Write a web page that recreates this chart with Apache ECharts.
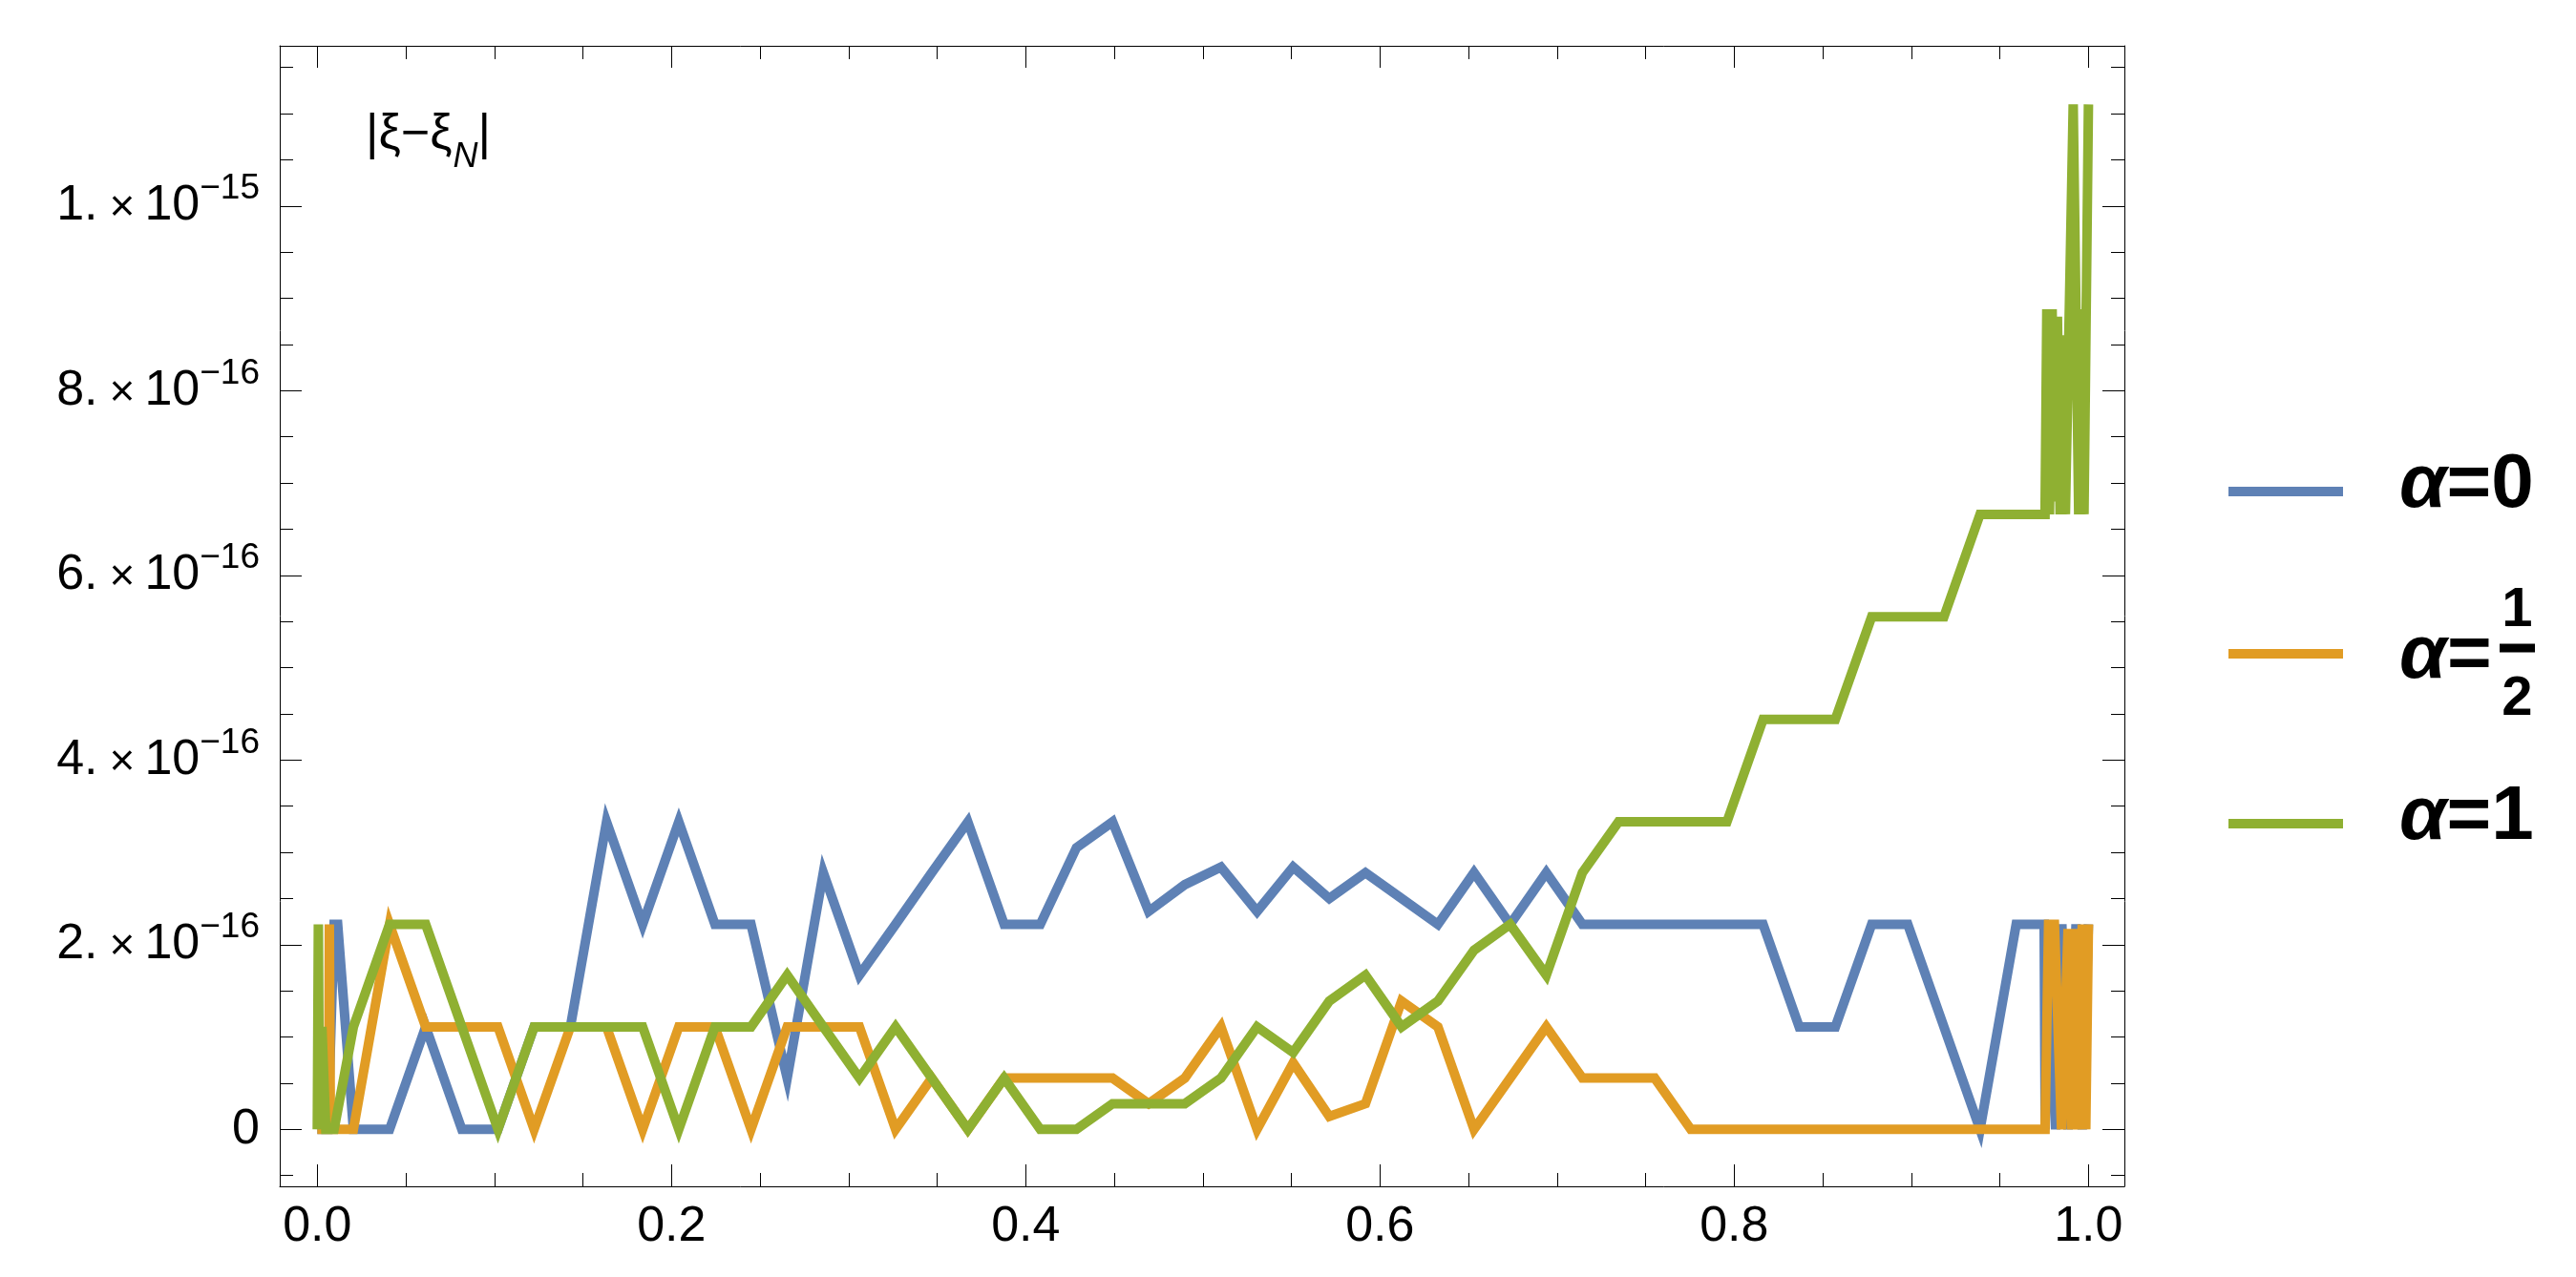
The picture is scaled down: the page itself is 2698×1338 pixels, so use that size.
<!DOCTYPE html>
<html>
<head>
<meta charset="utf-8">
<script src="https://cdn.jsdelivr.net/npm/echarts@6.0.0/dist/echarts.min.js"></script>
<style>
  html, body { margin: 0; padding: 0; background: #fff; }
  #chart { width: 2698px; height: 1338px; }
</style>
</head>
<body>
<div id="chart"></div>
<script>
// y values are in units of 1e-16
const xGrid = [0.0204, 0.0408, 0.0612, 0.0816, 0.1020, 0.1224, 0.1429, 0.1633, 0.1837, 0.2041,
  0.2245, 0.2449, 0.2653, 0.2857, 0.3061, 0.3265, 0.3469, 0.3673, 0.3878, 0.4082,
  0.4286, 0.4490, 0.4694, 0.4898, 0.5102, 0.5306, 0.5510, 0.5714, 0.5918, 0.6122,
  0.6327, 0.6531, 0.6735, 0.6939, 0.7143, 0.7347, 0.7551, 0.7755, 0.7959, 0.8163,
  0.8367, 0.8571, 0.8776, 0.8980, 0.9184, 0.9388, 0.9592]

const blueVals = [0, 0, 1.11, 0, 0, 1.11, 1.11, 3.33, 2.22, 3.33,
  2.22, 2.22, 0.555, 2.78, 1.67, 2.22, 2.78, 3.33, 2.22, 2.22,
  3.05, 3.33, 2.36, 2.65, 2.84, 2.36, 2.84, 2.50, 2.78, 2.50,
  2.22, 2.78, 2.22, 2.78, 2.22, 2.22, 2.22, 2.22, 2.22, 2.22,
  1.11, 1.11, 2.22, 2.22, 1.11, 0, 2.22]
const orangeVals = [0, 2.22, 1.11, 1.11, 1.11, 0, 1.11, 1.11, 0, 1.11,
  1.11, 0, 1.11, 1.11, 1.11, 0, 0.555, 0, 0.555, 0.555,
  0.555, 0.555, 0.278, 0.555, 1.11, 0, 0.72, 0.14, 0.278, 1.39,
  1.11, 0, 0.555, 1.11, 0.555, 0.555, 0.555, 0, 0, 0,
  0, 0, 0, 0, 0, 0, 0]
const greenVals = [1.11, 2.22, 2.22, 1.11, 0, 1.11, 1.11, 1.11, 1.11, 0,
  1.11, 1.11, 1.67, 1.11, 0.555, 1.11, 0.555, 0, 0.555, 0,
  0, 0.278, 0.278, 0.278, 0.555, 1.11, 0.833, 1.39, 1.67, 1.11,
  1.39, 1.94, 2.22, 1.67, 2.78, 3.33, 3.33, 3.33, 3.33, 4.44,
  4.44, 4.44, 5.55, 5.55, 5.55, 6.66, 6.66]

// extra samples near the ends
const blueHead = [[0, 0], [0.0060, 0], [0.0095, 2.22], [0.0115, 2.22]]
const orangeHead = [[0, 0], [0.0064, 0], [0.0068, 2.22], [0.0074, 0]]
const greenHead = [[0, 0], [0.0006, 2.22], [0.0012, 0], [0.0026, 1.11], [0.0048, 0], [0.0095, 0]]
const blueTail = [[0.9750, 2.22], [0.9756, 0], [0.9785, 2.22], [0.9815, 0], [0.9850, 2.22],
  [0.9885, 0], [0.9930, 2.22], [0.9965, 0], [1.0, 2.22]]
const orangeTail = [[0.9755, 0], [0.9775, 2.22], [0.9808, 2.22], [0.9848, 0], [0.9885, 2.17],
  [0.9905, 0], [0.9925, 2.17], [0.9945, 0], [0.9965, 2.22], [0.9985, 0], [1.0, 2.22]]
const greenTail = [[0.9755, 6.66], [0.9765, 8.88], [0.9780, 6.66], [0.9795, 8.88], [0.9810, 6.8],
  [0.9825, 8.8], [0.9840, 6.66], [0.9855, 8.6], [0.9870, 6.66], [0.9914, 11.1],
  [0.9945, 6.66], [0.9960, 8.88], [0.9975, 6.66], [1.0, 11.1]]

const seriesNames = ['α=0', 'α=1/2', 'α=1']
const seriesColors = ['#5E81B5', '#E19C24', '#8FB032']

const xTickValues = [0, 0.2, 0.4, 0.6, 0.8, 1.0]
const xTickLabels = ['0.0', '0.2', '0.4', '0.6', '0.8', '1.0']
const xMinorTicks = [0.05, 0.1, 0.15, 0.25, 0.3, 0.35, 0.45, 0.5, 0.55, 0.65, 0.7, 0.75, 0.85, 0.9, 0.95]
const yTickValues = [0, 2, 4, 6, 8, 10]
const yTickLabels = ['0', '2.×10^−16', '4.×10^−16', '6.×10^−16', '8.×10^−16', '1.×10^−15']
const yMinorTicks = [-0.5, 0.5, 1, 1.5, 2.5, 3, 3.5, 4.5, 5, 5.5, 6.5, 7, 7.5, 8.5, 9, 9.5, 10.5, 11, 11.5]

const X_MIN = -0.0212, X_MAX = 1.0203
const Y_MIN = -0.617, Y_MAX = 11.734

const FONT = 'Liberation Sans'

function pairs(xs, ys) {
  return xs.map((x, i) => [x, ys[i]])
}

function lookup(values, labels, v) {
  const i = values.findIndex(t => Math.abs(t - v) < 1e-6)
  return i < 0 ? '' : labels[i]
}

const chart = echarts.init(document.getElementById('chart'))

const gridRect = { left: 293, top: 48, width: 1932, height: 1195 }

function axisLineFor(major) {
  return { show: major, onZero: false, lineStyle: { color: '#000', width: 1 } }
}
function xAx(gridIndex, position, ticks, len, major) {
  return {
    type: 'value', gridIndex, position, min: X_MIN, max: X_MAX,
    axisLine: axisLineFor(major),
    splitLine: { show: false },
    axisTick: { show: true, inside: true, length: len, customValues: ticks, lineStyle: { color: '#000', width: 1 } },
    axisLabel: { show: false }
  }
}
function yAx(gridIndex, position, ticks, len, major) {
  return {
    type: 'value', gridIndex, position, min: Y_MIN, max: Y_MAX,
    axisLine: axisLineFor(major),
    splitLine: { show: false },
    axisTick: { show: true, inside: true, length: len, customValues: ticks, lineStyle: { color: '#000', width: 1 } },
    axisLabel: { show: false }
  }
}

const xAxes = [
  xAx(0, 'bottom', xTickValues, 23, true),
  xAx(1, 'top', xTickValues, 23, true),
  xAx(2, 'bottom', xMinorTicks, 14, false),
  xAx(3, 'top', xMinorTicks, 14, false)
]
xAxes[0].axisLabel = {
  show: true, customValues: xTickValues, margin: 17,
  fontFamily: FONT, fontSize: 52, color: '#000',
  formatter: v => lookup(xTickValues, xTickLabels, v)
}
const yAxes = [
  yAx(0, 'left', yTickValues, 23, true),
  yAx(1, 'right', yTickValues, 23, true),
  yAx(2, 'left', yMinorTicks, 14, false),
  yAx(3, 'right', yMinorTicks, 14, false)
]
yAxes[0].axisLabel = {
  show: true, customValues: yTickValues, margin: 21,
  formatter: v => {
    const s = lookup(yTickValues, yTickLabels, v)
    if (s.indexOf('^') < 0) return '{m|' + s + '}'
    const parts = s.split('^')
    const mt = parts[0].split('×')
    return '{m|' + mt[0] + '}{t|×}{m|' + mt[1] + '}{e|' + parts[1] + '}'
  },
  rich: {
    m: { fontFamily: FONT, fontSize: 52, lineHeight: 52, color: '#000', verticalAlign: 'bottom' },
    t: { fontFamily: FONT, fontSize: 46, lineHeight: 52, color: '#000', verticalAlign: 'bottom', padding: [0, 10, 0, 12] },
    e: { fontFamily: FONT, fontSize: 37, lineHeight: 37, color: '#000', verticalAlign: 'bottom', padding: [4, 0, 25, 0] }
  }
}

const legendRich = {
  sp: { width: 54, lineHeight: 10 },
  al: { fontFamily: FONT, fontSize: 80, fontWeight: 'bold', fontStyle: 'italic', color: '#000', lineHeight: 90, padding: [0, 0, 12, 0] },
  b: { fontFamily: FONT, fontSize: 80, fontWeight: 'bold', color: '#000', lineHeight: 90, padding: [0, 0, 12, 0] }
}
const fracRich = {
  sp: { width: 54, lineHeight: 10 },
  pad: { width: 105, lineHeight: 10 },
  num: { fontFamily: FONT, fontSize: 58, fontWeight: 'bold', color: '#000', lineHeight: 69, width: 37, align: 'center' },
  den: { fontFamily: FONT, fontSize: 58, fontWeight: 'bold', color: '#000', lineHeight: 63, width: 37, align: 'center' },
  al: { fontFamily: FONT, fontSize: 80, fontWeight: 'bold', fontStyle: 'italic', color: '#000', lineHeight: 27, width: 50 },
  eq: { fontFamily: FONT, fontSize: 80, fontWeight: 'bold', color: '#000', lineHeight: 27, width: 47 },
  g: { width: 8, lineHeight: 10 },
  bar: { width: 37, height: 9, lineHeight: 9, backgroundColor: '#000', verticalAlign: 'top' }
}

function legendFor(i, top, formatter, rich) {
  return {
    data: [seriesNames[i]], orient: 'vertical', left: 2334, top: top, padding: 0,
    icon: 'rect', itemWidth: 120, itemHeight: 10, selectedMode: false,
    itemStyle: { borderWidth: 0 },
    formatter: formatter,
    textStyle: { rich: rich }
  }
}

const option = {
  animation: false,
  backgroundColor: '#fff',
  title: {
    text: '{a||ξ−ξ}{n|N}{a||}',
    left: 383, top: 116, padding: 0,
    textStyle: {
      fontWeight: 'normal',
      rich: {
        a: { fontFamily: FONT, fontSize: 52, fontWeight: 'normal', lineHeight: 60, color: '#000', verticalAlign: 'top' },
        n: { fontFamily: FONT, fontSize: 36, fontWeight: 'normal', lineHeight: 36, fontStyle: 'italic', color: '#000', verticalAlign: 'top', padding: [31, 0, 0, 1] }
      }
    }
  },
  legend: [
    legendFor(0, 469, () => '{sp|}{al|α}{b|=0}', legendRich),
    legendFor(1, 611, () => '{sp|}{pad|}{num|1}\n{sp|}{al|α}{eq|=}{g|}{bar|}\n{sp|}{pad|}{den|2}', fracRich),
    legendFor(2, 817, () => '{sp|}{al|α}{b|=1}', legendRich)
  ],
  grid: [0, 1, 2, 3].map(() => Object.assign({ containLabel: false }, gridRect)),
  xAxis: xAxes,
  yAxis: yAxes,
  series: [
    { data: blueHead.concat(pairs(xGrid, blueVals), blueTail) },
    { data: orangeHead.concat(pairs(xGrid, orangeVals), orangeTail) },
    { data: greenHead.concat(pairs(xGrid, greenVals), greenTail) }
  ].map((s, i) => ({
    name: seriesNames[i],
    type: 'line',
    xAxisIndex: 0,
    yAxisIndex: 0,
    showSymbol: false,
    symbol: 'none',
    color: seriesColors[i],
    lineStyle: { color: seriesColors[i], width: 10, join: 'miter', miterLimit: 10, cap: 'butt' },
    data: s.data
  }))
}

chart.setOption(option)
</script>
</body>
</html>
